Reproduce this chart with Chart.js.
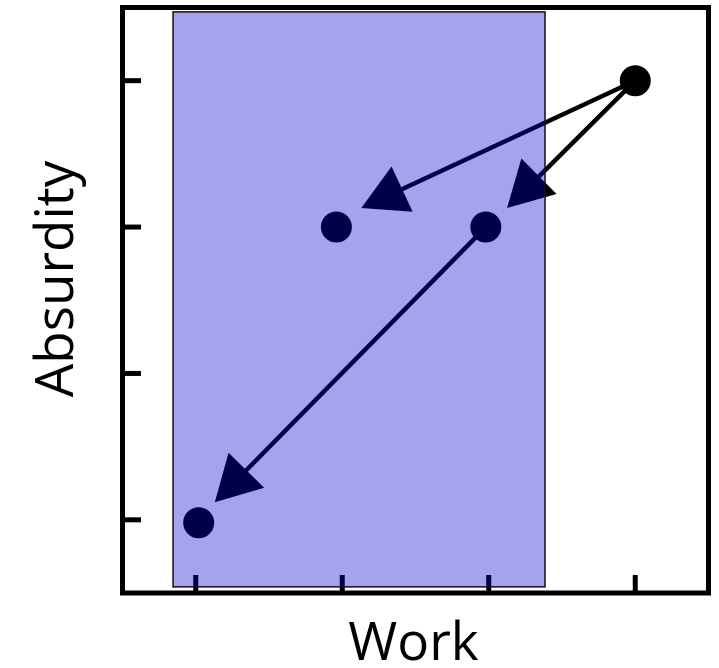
<!DOCTYPE html>
<html>
<head>
<meta charset="utf-8">
<script src="https://cdn.jsdelivr.net/npm/chart.js@4"></script>
<style>
  html, body { margin: 0; padding: 0; background: #fff; }
  #wrap { width: 719px; height: 668px; }
  #fontWarm { font-family: "Open Sans"; position: absolute; left: -999px; top: 0; }
</style>
</head>
<body>
<div id="wrap"><canvas id="graphicFirst"></canvas></div>
<span id="fontWarm">Work Absurdity</span>
<script>
// Work vs Absurdity
// Librerias: Chart.js

//-----DATA
const pointsX = [4, 2.98, 1.96, 1.02];
const pointsY = [4, 3.0, 3.0, 0.98];
const arrowFromX = [4, 4, 2.98];
const arrowFromY = [4, 4, 3.0];
const arrowToX = [2.13, 3.125, 1.13];
const arrowToY = [3.13, 3.13, 1.12];
const tickValues = [1, 2, 3, 4];
const bandX = [0.845, 3.384];
const bandY = [0.542, 4.47];
const xTitle = 'Work';
const yTitle = 'Absurdity';

//-----HELPERS
function drawArrow(ctx, x0, y0, x1, y1){
  let dx = x1 - x0, dy = y1 - y0;
  let len = Math.sqrt(dx * dx + dy * dy);
  let ux = dx / len, uy = dy / len;
  let headLen = 45, headHalf = 25;
  let bx = x1 - ux * headLen, by = y1 - uy * headLen;

  ctx.beginPath();
  ctx.moveTo(x0, y0);
  ctx.lineTo(x1 - ux * (headLen - 5), y1 - uy * (headLen - 5));
  ctx.stroke();

  ctx.beginPath();
  ctx.moveTo(x1, y1);
  ctx.lineTo(bx - uy * headHalf, by + ux * headHalf);
  ctx.lineTo(bx + uy * headHalf, by - ux * headHalf);
  ctx.closePath();
  ctx.fill();
}

//-----PLUGIN
const framePlugin = {
  id: 'frame',
  afterDatasetsDraw(chart){
    const ctx = chart.ctx;
    const xs = chart.scales.x;
    const ys = chart.scales.y;
    const a = chart.chartArea;
    ctx.save();

    // arrows
    ctx.strokeStyle = '#000';
    ctx.fillStyle = '#000';
    ctx.lineWidth = 4.5;
    for (let i = 0; i < arrowFromX.length; i++) {
      drawArrow(ctx,
        xs.getPixelForValue(arrowFromX[i]), ys.getPixelForValue(arrowFromY[i]),
        xs.getPixelForValue(arrowToX[i]), ys.getPixelForValue(arrowToY[i]));
    }

    // inward ticks
    ctx.lineWidth = 5;
    ctx.lineCap = 'butt';
    tickValues.forEach(v => {
      let px = xs.getPixelForValue(v);
      ctx.beginPath();
      ctx.moveTo(px, a.bottom);
      ctx.lineTo(px, a.bottom - 18);
      ctx.stroke();
      let py = ys.getPixelForValue(v);
      ctx.beginPath();
      ctx.moveTo(a.left, py);
      ctx.lineTo(a.left + 18.5, py);
      ctx.stroke();
    });

    // shaded band
    let rx0 = xs.getPixelForValue(bandX[0]);
    let rx1 = xs.getPixelForValue(bandX[1]);
    let ry0 = ys.getPixelForValue(bandY[1]);
    let ry1 = ys.getPixelForValue(bandY[0]);
    ctx.fillStyle = 'rgba(0, 0, 205, 0.357)';
    ctx.fillRect(rx0, ry0, rx1 - rx0, ry1 - ry0);
    ctx.lineWidth = 1.5;
    ctx.strokeStyle = '#111';
    ctx.strokeRect(rx0, ry0, rx1 - rx0, ry1 - ry0);

    // frame
    ctx.lineWidth = 5;
    ctx.strokeStyle = '#000';
    ctx.strokeRect(a.left, a.top, a.right - a.left, a.bottom - a.top);

    // titles
    ctx.fillStyle = '#000';
    ctx.font = '53px "Open Sans", sans-serif';
    ctx.textAlign = 'center';
    ctx.textBaseline = 'alphabetic';
    ctx.fillText(xTitle, (a.left + a.right) / 2 - 2, 660);
    ctx.translate(73, 279);
    ctx.rotate(-Math.PI / 2);
    ctx.fillText(yTitle, 0, 0);

    ctx.restore();
  }
};

//-----GRAPICH
let chart1;
function drawFirstElement(){
  const ctxChart = document.getElementById('graphicFirst').getContext('2d');
  if (chart1) {
    chart1.destroy();
  }
  chart1 = new Chart(ctxChart, {
    type: 'scatter',
    data: {
      datasets: [{
        data: pointsX.map((x, i) => ({ x: x, y: pointsY[i] })),
        backgroundColor: '#000',
        borderWidth: 0,
        pointRadius: 15.5,
        pointHoverRadius: 15.5
      }]
    },
    options: {
      responsive: true,
      maintainAspectRatio: false,
      animation: false,
      layout: { autoPadding: false, padding: { left: 122.5, top: 7.5, right: 10.5, bottom: 75 } },
      plugins: { legend: { display: false }, tooltip: { enabled: false } },
      scales: {
        x: { type: 'linear', min: 0.5, max: 4.5, display: false },
        y: { type: 'linear', min: 0.5, max: 4.5, display: false }
      }
    },
    plugins: [framePlugin]
  });
}

drawFirstElement();
if (document.fonts && document.fonts.load) {
  document.fonts.load('53px "Open Sans"').then(() => drawFirstElement());
}
</script>
</body>
</html>
